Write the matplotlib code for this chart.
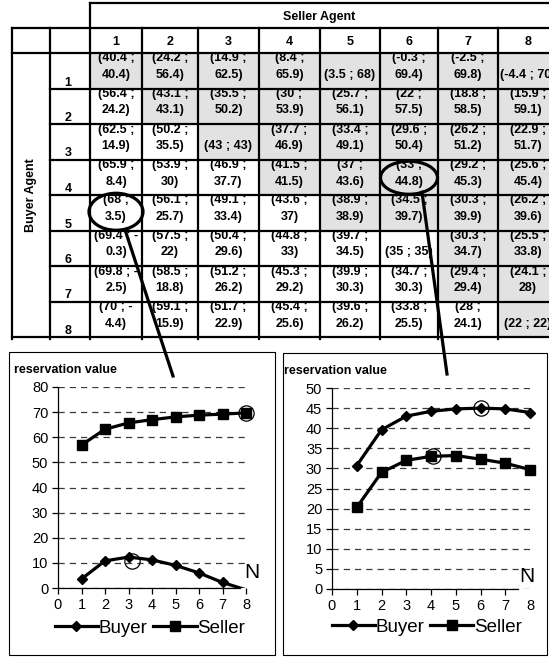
import matplotlib
matplotlib.use("Agg")
import matplotlib.pyplot as plt
from matplotlib.patches import Ellipse, Rectangle
from matplotlib.lines import Line2D

plt.rcParams['font.family'] = ['Liberation Sans', 'DejaVu Sans']

# ---------------- data ----------------
agent_numbers = [1, 2, 3, 4, 5, 6, 7, 8]
col_title = "Seller Agent"
row_title = "Buyer Agent"

first_values = [
    [40.4, 24.2, 14.9, 8.4, 3.5, -0.3, -2.5, -4.4],
    [56.4, 43.1, 35.5, 30, 25.7, 22, 18.8, 15.9],
    [62.5, 50.2, 43, 37.7, 33.4, 29.6, 26.2, 22.9],
    [65.9, 53.9, 46.9, 41.5, 37, 33, 29.2, 25.6],
    [68, 56.1, 49.1, 43.6, 38.9, 34.5, 30.3, 26.2],
    [69.4, 57.5, 50.4, 44.8, 39.7, 35, 30.3, 25.5],
    [69.8, 58.5, 51.2, 45.3, 39.9, 34.7, 29.4, 24.1],
    [70, 59.1, 51.7, 45.4, 39.6, 33.8, 28, 22],
]
second_values = [
    [40.4, 56.4, 62.5, 65.9, 68, 69.4, 69.8, 70],
    [24.2, 43.1, 50.2, 53.9, 56.1, 57.5, 58.5, 59.1],
    [14.9, 35.5, 43, 46.9, 49.1, 50.4, 51.2, 51.7],
    [8.4, 30, 37.7, 41.5, 43.6, 44.8, 45.3, 45.4],
    [3.5, 25.7, 33.4, 37, 38.9, 39.7, 39.9, 39.6],
    [-0.3, 22, 29.6, 33, 34.5, 35, 34.7, 33.8],
    [-2.5, 18.8, 26.2, 29.2, 30.3, 30.3, 29.4, 28],
    [-4.4, 15.9, 22.9, 25.6, 26.2, 25.5, 24.1, 22],
]
shaded_cells = [
    [1, 1, 1, 1, 1, 1, 1, 1],
    [0, 1, 1, 1, 1, 1, 1, 1],
    [0, 0, 1, 1, 1, 1, 1, 1],
    [0, 0, 0, 1, 1, 1, 1, 1],
    [0, 0, 0, 0, 1, 1, 1, 1],
    [0, 0, 0, 0, 0, 0, 1, 1],
    [0, 0, 0, 0, 0, 0, 1, 1],
    [0, 0, 0, 0, 0, 0, 0, 1],
]
# highlighted cells (buyer agent, seller agent)
highlight_left = (5, 1)
highlight_right = (4, 6)

n_values = [1, 2, 3, 4, 5, 6, 7, 8]
left_buyer = [3.6, 10.8, 12.3, 11.2, 9.0, 6.0, 2.2, -0.7]
left_seller = [56.9, 63.2, 65.7, 67.0, 68.1, 68.8, 69.2, 69.7]
left_circle_x = [3.15, 8]
left_circle_y = [10.8, 69.7]

right_buyer = [30.7, 39.6, 43.0, 44.2, 44.8, 45.0, 44.8, 43.9]
right_seller = [20.3, 29.0, 32.0, 33.0, 33.2, 32.3, 31.3, 29.7]
right_circle_x = [6, 4.1]
right_circle_y = [45.0, 33.2]

y_label = "reservation value"
x_label = "N"
legend_labels = ["Buyer", "Seller"]

# ---------------- layout ----------------
W, H = 549, 657
fig = plt.figure(figsize=(W / 100, H / 100), dpi=100)
bg = fig.add_axes([0, 0, 1, 1])
bg.set_xlim(0, W)
bg.set_ylim(H, 0)
bg.axis('off')
renderer = fig.canvas.get_renderer()

col_edges = [90, 142, 198, 259, 320, 380, 438, 498, 558]
x_outer, x_label_col = 12, 50
y_top, y_head, y_rows, y_bot = 3, 28, 53, 337
row_h = (y_bot - y_rows) / 8
lw_tab = 1.6
shade = '#e2e2e2'
tfs = 9


def text_width(s):
    t = bg.text(0, 0, s, fontsize=tfs, fontweight='bold')
    w = t.get_window_extent(renderer).width
    t.remove()
    return w


# shading
for i in range(8):
    for j in range(8):
        if shaded_cells[i][j]:
            bg.add_patch(Rectangle((col_edges[j], y_rows + i * row_h),
                                   col_edges[j + 1] - col_edges[j], row_h,
                                   facecolor=shade, edgecolor='none', zorder=1))

# grid lines
kw = dict(color='black', lw=lw_tab, zorder=2, solid_capstyle='projecting')
bg.plot([col_edges[0], W + 5], [y_top, y_top], **kw)
bg.plot([col_edges[0], col_edges[0]], [y_top, y_bot + 2], **kw)
bg.plot([x_outer, W + 5], [y_head, y_head], **kw)
bg.plot([x_outer, W + 5], [y_rows, y_rows], **kw)
bg.plot([x_outer, W + 5], [y_bot, y_bot], **kw)
for x in [x_outer, x_label_col] + col_edges[1:]:
    bg.plot([x, x], [y_head, y_bot + 2], **kw)
for i in range(1, 8):
    y = y_rows + i * row_h
    bg.plot([x_label_col, W + 5], [y, y], **kw)

# header texts
bg.text((col_edges[0] + W) / 2, 17, col_title, ha='center', va='center',
        fontsize=tfs, fontweight='bold', zorder=3)
bg.text((x_outer + x_label_col) / 2, (y_rows + y_bot) / 2, row_title,
        ha='center', va='center', rotation=90, fontsize=tfs,
        fontweight='bold', zorder=3)
for j, n in enumerate(agent_numbers):
    bg.text((col_edges[j] + col_edges[j + 1]) / 2, 42, str(n), ha='center',
            va='center', fontsize=tfs, fontweight='bold', zorder=3)
for i, n in enumerate(agent_numbers):
    bg.text((x_label_col + col_edges[0]) / 2 - 2, y_rows + (i + 1) * row_h - 6,
            str(n), ha='center', va='center', fontsize=tfs,
            fontweight='bold', zorder=3)

for i in range(8):
    for j in range(8):
        a, b = first_values[i][j], second_values[i][j]
        s = f"({a:g} ; {b:g})"
        xc = (col_edges[j] + col_edges[j + 1]) / 2
        ybot = y_rows + (i + 1) * row_h
        avail = col_edges[j + 1] - col_edges[j] - 4.5
        if text_width(s) <= avail:
            bg.text(xc, ybot - 13.5, s, ha='center', va='center',
                    fontsize=tfs, fontweight='bold', zorder=3)
        else:
            l1 = f"({a:g} ;" + (" -" if b < 0 else "")
            l2 = f"{abs(b):g})"
            bg.text(xc, ybot - 30, l1, ha='center', va='center',
                    fontsize=tfs, fontweight='bold', zorder=3)
            bg.text(xc, ybot - 13.5, l2, ha='center', va='center',
                    fontsize=tfs, fontweight='bold', zorder=3)


# highlight ellipses and pointers
def cell_center(rc):
    r, c = rc
    return ((col_edges[c - 1] + col_edges[c]) / 2,
            y_rows + (r - 0.5) * row_h)


cx1, cy1 = cell_center(highlight_left)
bg.add_patch(Ellipse((cx1, cy1 - 1), 54, 37, facecolor='none',
                     edgecolor='black', lw=2.3, zorder=4))
bg.plot([cx1 + 9, 173], [cy1 + 17, 376], color='black', lw=2.3, zorder=4)

cx2, cy2 = cell_center(highlight_right)
bg.add_patch(Ellipse((cx2, cy2 + 0.5), 57, 33, facecolor='none',
                     edgecolor='black', lw=2.3, zorder=4))
bg.plot([cx2 + 13, 447], [cy2 + 15, 374], color='black', lw=2.3, zorder=4)

# chart boxes
bg.add_patch(Rectangle((9, 352), 266, 303, facecolor='none',
                       edgecolor='black', lw=0.8, zorder=2))
bg.add_patch(Rectangle((283, 353), 264, 302, facecolor='none',
                       edgecolor='black', lw=0.8, zorder=2))
bg.text(14, 370, y_label, ha='left', va='center', fontsize=9,
        fontweight='bold')
bg.text(284, 371, y_label, ha='left', va='center', fontsize=9,
        fontweight='bold')


def make_chart(px, ymax, ystep, buyer, seller, cx, cy, spine_end,
               n_xy, leg_xy, clip_buyer):
    l, r, t, b = px
    ax = fig.add_axes([l / W, 1 - b / H, (r - l) / W, (b - t) / H])
    ax.set_facecolor('none')
    ax.set_xlim(0, 8)
    ax.set_ylim(0, ymax)
    ax.set_xticks(range(0, 9))
    ax.set_yticks(range(0, ymax + 1, ystep))
    ax.yaxis.grid(True, linestyle=(0, (5, 4)), color='#3a3a3a', lw=0.9)
    ax.set_axisbelow(True)
    for s in ['top', 'right']:
        ax.spines[s].set_visible(False)
    for s in ['left', 'bottom']:
        ax.spines[s].set_linewidth(0.9)
        ax.spines[s].set_color('black')
    ax.spines['bottom'].set_bounds(0, spine_end)
    ax.tick_params(direction='out', length=4, width=0.9, labelsize=10.5,
                   pad=3, colors='black')
    lkw = dict(color='black', lw=2.3)
    if clip_buyer:
        ax.plot(n_values, buyer, clip_on=True, **lkw)
        xs = [x for x, v in zip(n_values, buyer) if v >= 0]
        vs = [v for v in buyer if v >= 0]
        ax.plot(xs, vs, ls='none', marker='D', ms=5.5, color='black',
                clip_on=False)
    else:
        ax.plot(n_values, buyer, marker='D', ms=5.5, clip_on=False, **lkw)
    ax.plot(n_values, seller, marker='s', ms=7.5, clip_on=False, **lkw)
    ax.plot(cx, cy, ls='none', marker='o', ms=11, mfc='none', mec='black',
            mew=0.9, clip_on=False)
    ax.text(n_xy[0], n_xy[1], x_label, transform=ax.transAxes, ha='center',
            va='center', fontsize=15)
    handles = [Line2D([], [], color='black', lw=2.3, marker='D', ms=5.5),
               Line2D([], [], color='black', lw=2.3, marker='s', ms=7.5)]
    ax.legend(handles, legend_labels, ncol=2, loc='center',
              bbox_to_anchor=leg_xy, frameon=False, fontsize=13.5,
              handlelength=2.3, handletextpad=0.05, columnspacing=0.3,
              borderpad=0, borderaxespad=0)
    return ax


make_chart((58, 246, 387, 588), 80, 10, left_buyer, left_seller,
           left_circle_x, left_circle_y, 7.75, (1.03, 0.075), (0.49, -0.2),
           True)
axr = make_chart((332, 530, 388, 589), 50, 5, right_buyer, right_seller,
                 right_circle_x, right_circle_y, 7.5, (0.985, 0.06),
                 (0.48, -0.19), False)
axr.xaxis.get_major_ticks()[-1].tick1line.set_visible(False)

fig.savefig("out.png", dpi=100)
